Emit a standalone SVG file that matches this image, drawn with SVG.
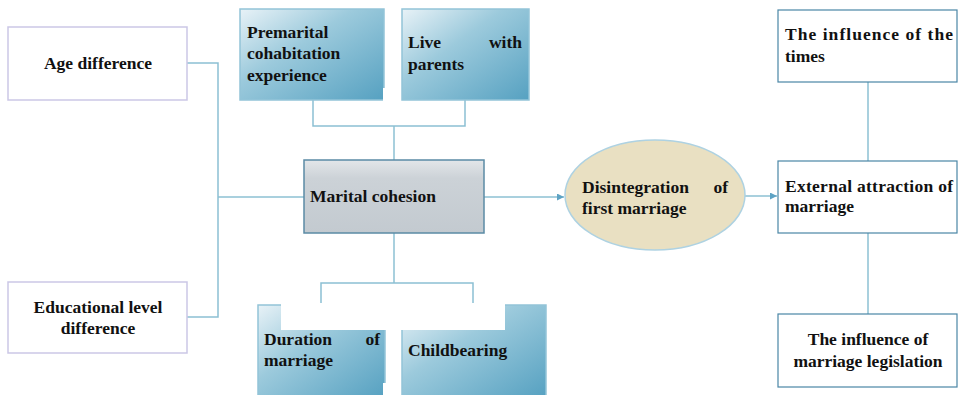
<svg xmlns="http://www.w3.org/2000/svg" width="958" height="395" viewBox="0 0 958 395">
<style>
text{font-family:"Liberation Serif","Times New Roman",serif;font-weight:bold;font-size:17.5px;fill:#111}
.blue{fill:url(#gBlue);stroke:#93c4d8;stroke-width:1.5}
.plain{fill:#fff;stroke:#cbc7e6;stroke-width:1.5}
.rbox{fill:#fff;stroke:#4a86a6;stroke-width:1.2}
.conn{fill:none;stroke:#8cc0d3;stroke-width:1.5}
.mid{text-anchor:middle}
.wipe{fill:#fff}
</style>
<defs>
<linearGradient id="gBlue" x1="0" y1="0" x2="1" y2="1">
<stop offset="0" stop-color="#e8f2f7"/>
<stop offset="0.4" stop-color="#9ccadc"/>
<stop offset="1" stop-color="#56a1c1"/>
</linearGradient>
<linearGradient id="gGray" x1="0" y1="0" x2="0" y2="1">
<stop offset="0" stop-color="#e3e6e9"/>
<stop offset="0.25" stop-color="#ccd2d7"/>
<stop offset="1" stop-color="#c3cad0"/>
</linearGradient>
<marker id="arr" viewBox="0 0 10 10" refX="10" refY="5" markerWidth="7" markerHeight="7" orient="auto" markerUnits="userSpaceOnUse">
<path d="M0,0 L10,5 L0,10 Z" fill="#5ea3c4"/>
</marker>
</defs>

<g id="connectors">
<path class="conn" d="M187,63 H218 V317 H187"/>
<path class="conn" d="M218,197 H304"/>
<path class="conn" d="M313,100 V126 H465 V100"/>
<path class="conn" d="M394,126 V160"/>
<path class="conn" d="M394,233 V283"/>
<path class="conn" d="M321,304 V283 H473 V304"/>
<path class="conn" d="M484,197 H564" marker-end="url(#arr)"/>
<path class="conn" d="M744,196 H777" marker-end="url(#arr)"/>
<path class="conn" d="M868,82 V161"/>
<path class="conn" d="M868,233 V314"/>
</g>

<g id="age">
<rect class="plain" x="8" y="27" width="179" height="73"/>
<text x="98" y="69" class="mid">Age difference</text>
</g>

<g id="education">
<rect class="plain" x="8" y="282" width="179" height="71"/>
<text x="98" y="313" class="mid">Educational level</text>
<text x="98" y="334" class="mid">difference</text>
</g>

<g id="premarital">
<rect class="blue" x="240" y="9" width="144" height="91"/>
<rect class="wipe" x="383" y="88" width="3" height="14"/>
<text x="247" y="38">Premarital</text>
<text x="247" y="59">cohabitation</text>
<text x="247" y="81">experience</text>
</g>

<g id="parents">
<rect class="blue" x="402" y="9" width="127" height="91"/>
<text x="408" y="48">Live</text>
<text x="522" y="48" text-anchor="end">with</text>
<text x="408" y="70">parents</text>
</g>

<g id="marital">
<rect x="304" y="160" width="180" height="73" fill="url(#gGray)" stroke="#5b8ba5" stroke-width="1.5"/>
<text x="310" y="202">Marital cohesion</text>
</g>

<g id="duration">
<rect class="blue" x="258" y="305" width="127" height="93"/>
<rect class="wipe" x="281" y="303" width="106" height="27"/>
<rect class="wipe" x="383" y="383" width="4" height="14"/>
<text x="264" y="345">Duration</text>
<text x="380" y="345" text-anchor="end">of</text>
<text x="264" y="366">marriage</text>
</g>

<g id="childbearing">
<rect class="blue" x="402" y="305" width="144" height="93"/>
<rect class="wipe" x="400" y="303" width="105" height="27"/>
<text x="408" y="356">Childbearing</text>
</g>

<g id="disintegration">
<ellipse cx="655" cy="195" rx="90" ry="55" fill="#e9e0c2" stroke="#aed2e2" stroke-width="1.5"/>
<text x="582" y="193">Disintegration</text>
<text x="728" y="193" text-anchor="end">of</text>
<text x="582" y="214">first marriage</text>
</g>

<g id="times">
<rect class="rbox" x="778" y="10" width="179" height="72"/>
<text x="785" y="40" textLength="168" lengthAdjust="spacing">The influence of the</text>
<text x="785" y="62">times</text>
</g>

<g id="external">
<rect class="rbox" x="778" y="161" width="179" height="72"/>
<text x="785" y="192" textLength="168" lengthAdjust="spacing">External attraction of</text>
<text x="785" y="212">marriage</text>
</g>

<g id="legislation">
<rect class="rbox" x="778" y="314" width="179" height="73"/>
<text x="868" y="345" class="mid">The influence of</text>
<text x="868" y="367" class="mid">marriage legislation</text>
</g>
</svg>
